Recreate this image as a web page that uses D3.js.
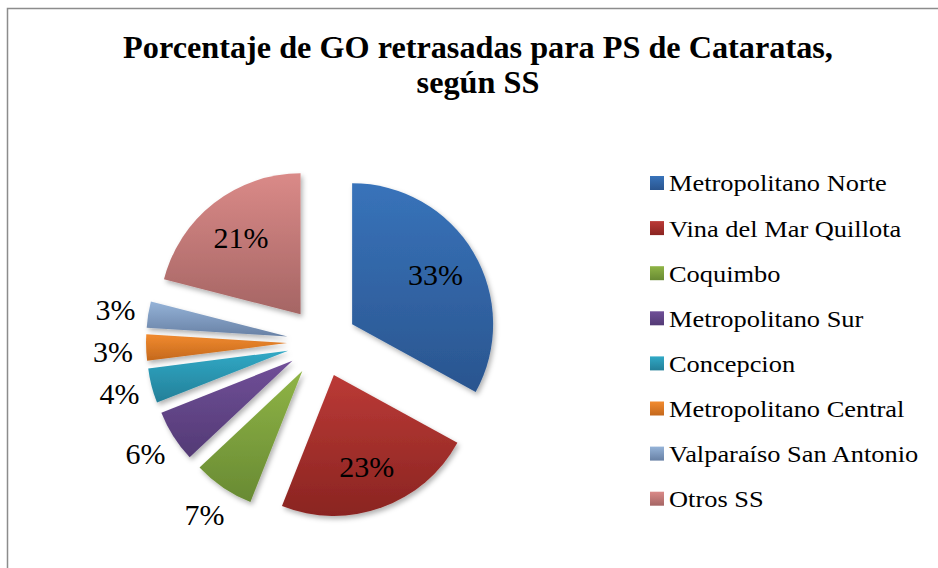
<!DOCTYPE html>
<html>
  <head>
    <meta charset="utf-8">
    <style type="text/css">
      body { margin:0; background:#fff; }
      svg, svg text { font-family:"Liberation Serif", Tinos, "Times New Roman", Times, serif; }
      text { fill:#000; }
      .title { font-size:31px; font-weight:bold; }
      .pct { font-size:30px; }
      .legend text { font-size:24px; }
    </style>
  </head>
  <body>
    <div id="canvas"></div>
    <script src="https://cdnjs.cloudflare.com/ajax/libs/d3/7.8.5/d3.min.js"></script>
    <script type="text/javascript">

    var categories = ["Metropolitano Norte", "Vina del Mar Quillota", "Coquimbo", "Metropolitano Sur",
                      "Concepcion", "Metropolitano Central", "Valparaíso San Antonio", "Otros SS"];
    var values = [33, 23, 7, 6, 4, 3, 3, 21];
    var titleLines = ["Porcentaje de GO retrasadas para PS de Cataratas,", "según SS"];

    // gradient colours, top -> bottom
    var topColors = ["#3873ba", "#bb3a36", "#8fb446", "#704f98", "#31a9c6", "#f28b2f", "#95b3d8", "#da8a88"];
    var bottomColors = ["#2a558f", "#8a2421", "#688a33", "#533a75", "#237f98", "#c4681c", "#6881a5", "#a56564"];

    var width = 938, height = 568;
    var cx = 322, cy = 342, radius = 141, explode = 35;

    // the source renders its Times text a bit wider than Liberation Serif
    var stretch = function (sel, k) {
      sel.each(function () {
        var w = this.getComputedTextLength();
        d3.select(this).attr('textLength', w * k).attr('lengthAdjust', 'spacingAndGlyphs');
      });
    };

    var svg = d3.select('#canvas').append('svg')
                .attr('width', width)
                .attr('height', height);

    var defs = svg.append('defs');
    categories.forEach(function (c, i) {
      var g = defs.append('linearGradient')
                  .attr('id', 'grad' + i)
                  .attr('x1', 0).attr('y1', 0).attr('x2', 0).attr('y2', 1);
      g.append('stop').attr('offset', '0%').attr('stop-color', topColors[i]);
      g.append('stop').attr('offset', '100%').attr('stop-color', bottomColors[i]);
    });
    var shadow = defs.append('filter').attr('id', 'shadow')
                     .attr('x', '-20%').attr('y', '-20%').attr('width', '140%').attr('height', '140%');
    shadow.append('feDropShadow')
          .attr('dx', 2).attr('dy', 3).attr('stdDeviation', 2.5)
          .attr('flood-color', '#000').attr('flood-opacity', 0.3);

    // chart border (right and bottom run off the picture)
    svg.append('rect')
       .attr('x', 7.5).attr('y', 8.5)
       .attr('width', width + 10).attr('height', height + 10)
       .attr('fill', 'none').attr('stroke', '#8c8c8c').attr('stroke-width', 1.5);

    // title
    var title = svg.selectAll('text.title')
       .data(titleLines)
       .enter().append('text')
         .attr('class', 'title')
         .attr('text-anchor', 'middle')
         .attr('x', 478)
         .attr('y', function (d, i) { return 58 + i * 35; })
         .text(function (d) { return d; });
    stretch(title, 1.04);

    var pie = d3.pie().sort(null).value(function (d) { return d; });
    var arcs = pie(values);
    var arc = d3.arc().innerRadius(0).outerRadius(radius);
    var inLabelArc = d3.arc().innerRadius(97).outerRadius(97);
    var outLabelArc = d3.arc().innerRadius(209).outerRadius(209);

    var offset = function (d) {
      var a = (d.startAngle + d.endAngle) / 2;
      return [Math.sin(a) * explode, -Math.cos(a) * explode];
    };

    var pieG = svg.append('g').attr('transform', 'translate(' + cx + ',' + cy + ')');

    pieG.selectAll('path')
        .data(arcs)
      .enter().append('path')
        .attr('d', arc)
        .attr('transform', function (d) {
          var o = offset(d);
          return 'translate(' + o[0] + ',' + o[1] + ')';
        })
        .attr('fill', function (d, i) { return 'url(#grad' + i + ')'; })
        .attr('filter', 'url(#shadow)');

    // label positions: big slices inside, small outside with simple overlap push
    var labels = arcs.map(function (d, i) {
      var p;
      if (d.value >= 10) {
        var o = offset(d), c = inLabelArc.centroid(d);
        p = [c[0] + o[0], c[1] + o[1]];
      } else {
        p = outLabelArc.centroid(d);
      }
      return { text: d.value + '%', x: p[0], y: p[1], outside: d.value < 10 };
    });
    var outside = labels.filter(function (l) { return l.outside; })
                        .sort(function (a, b) { return a.y - b.y; });
    for (var k = 1; k < outside.length; k++) {
      outside[k].y = Math.max(outside[k].y, outside[k - 1].y + 42);
    }

    pieG.selectAll('text.pct')
        .data(labels)
      .enter().append('text')
        .attr('class', 'pct')
        .attr('text-anchor', 'middle')
        .attr('x', function (d) { return d.x; })
        .attr('y', function (d) { return d.y; })
        .attr('dy', '0.35em')
        .text(function (d) { return d.text; });

    // legend
    var legend = svg.append('g').attr('class', 'legend')
                    .attr('transform', 'translate(650,183)');
    var rows = legend.selectAll('g')
                     .data(categories)
                   .enter().append('g')
                     .attr('transform', function (d, i) { return 'translate(0,' + (i * 45.1) + ')'; });
    rows.append('rect')
        .attr('x', 0).attr('y', -7)
        .attr('width', 14).attr('height', 14)
        .attr('fill', function (d, i) { return 'url(#grad' + i + ')'; });
    var legendText = rows.append('text')
        .attr('x', 19)
        .attr('dy', '0.35em')
        .text(function (d) { return d; });
    stretch(legendText, 1.1);

    </script>
  </body>
</html>
